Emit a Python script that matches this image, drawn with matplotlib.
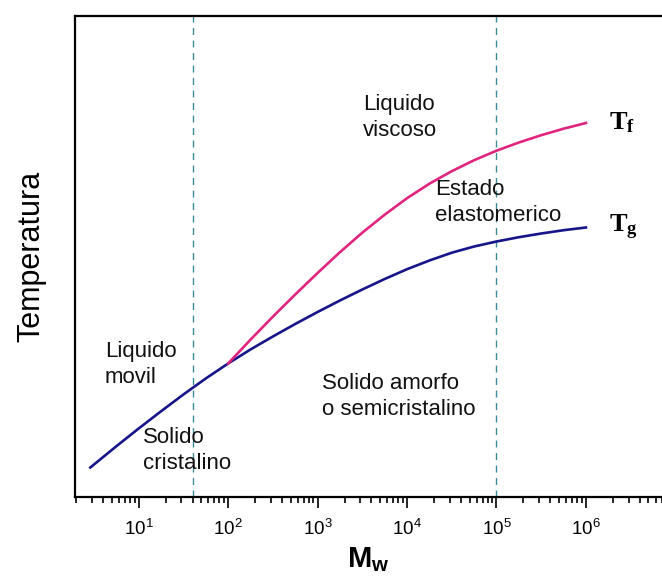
import numpy as np
import matplotlib
matplotlib.use('Agg')
import matplotlib.pyplot as plt
from matplotlib.ticker import LogLocator, LogFormatterMathtext, NullFormatter

plt.rcParams['font.family'] = 'Liberation Sans'
plt.rcParams['mathtext.fontset'] = 'custom'
plt.rcParams['mathtext.rm'] = 'Liberation Sans'
plt.rcParams['mathtext.bf'] = 'Liberation Serif:bold'
plt.rcParams['mathtext.sf'] = 'Liberation Sans:bold'

# curves (temperature in arbitrary units)
log_mw_g = [0.46, 0.75, 1.0, 1.25, 1.5, 1.75, 2.0, 2.25, 2.5, 2.75, 3.0, 3.25,
            3.5, 3.75, 4.0, 4.25, 4.5, 4.75, 5.0, 5.25, 5.5, 5.75, 6.0]
temp_g = [29.5, 50.7, 68.5, 85.7, 102.5, 118.5, 133.5, 147.5, 160.5, 173, 185, 196.5,
          207.5, 218, 227.8, 236.5, 244.3, 250.5, 255.5, 259.8, 263.5, 266.8, 269.5]

log_mw_f = [2.0, 2.25, 2.5, 2.75, 3.0, 3.25, 3.5, 3.75, 4.0, 4.25, 4.5, 4.75,
            5.0, 5.25, 5.5, 5.75, 6.0]
temp_f = [133.5, 157.3, 180.3, 202.5, 224, 244.8, 264.3, 282.3, 298.8, 313.3, 325.8, 336.8,
          346.3, 354.5, 361.8, 368.3, 374]

boundaries = [40, 1e5]
major_ticks = [1e1, 1e2, 1e3, 1e4, 1e5, 1e6]

regions = [
    ("Liquido\nviscoso", 3200, 403),
    ("Estado\nelastomerico", 20400, 318),
    ("Liquido\nmovil", 4.2, 156),
    ("Solido\ncristalino", 11.2, 70),
    ("Solido amorfo\no semicristalino", 1117, 124),
]

mw_g = 10 ** np.array(log_mw_g)
mw_f = 10 ** np.array(log_mw_f)

fig = plt.figure(figsize=(6.62, 5.81), dpi=100)
ax = fig.add_axes([74.6 / 662, 84 / 581, (662 - 74.6) / 662, 481 / 581])

for b in boundaries:
    ax.axvline(b, color='#3a8a9a', lw=1.0, ls=(0, (5, 4)))

ax.plot(mw_g, temp_g, color='#16168a', lw=1.9, solid_joinstyle='round')
ax.plot(mw_f, temp_f, color='#e0257f', lw=1.9, solid_joinstyle='round')

for txt, x, y in regions:
    ax.text(x, y, txt, fontsize=16, va='top', ha='left', linespacing=1.3, color='#111111')

ax.text(1.8e6, 368, r'$\mathbf{T_f}$', fontsize=19, va='baseline', ha='left')
ax.text(1.8e6, 265, r'$\mathbf{T_g}$', fontsize=19, va='baseline', ha='left')

ax.set_xscale('log')
ax.set_xlim(10 ** 0.284, 10 ** 6.85)
ax.set_ylim(0, 481)
ax.set_xticks(major_ticks)
ax.xaxis.set_major_formatter(LogFormatterMathtext())
ax.xaxis.set_minor_locator(LogLocator(base=10, subs=np.arange(2, 10), numticks=20))
ax.xaxis.set_minor_formatter(NullFormatter())
ax.set_yticks([])

ax.tick_params(axis='x', which='major', direction='out', length=8, width=1.2, labelsize=13.5, pad=8)
ax.tick_params(axis='x', which='minor', direction='out', length=4.5, width=1.2)

for s in ['left', 'bottom', 'top']:
    ax.spines[s].set_linewidth(1.6)
ax.spines['right'].set_visible(False)

ax.set_xlabel(r'$\mathsf{M_w}$', fontsize=21, labelpad=4)
ax.set_ylabel('Temperatura', fontsize=22, labelpad=20)

fig.savefig('out.png', dpi=100)
